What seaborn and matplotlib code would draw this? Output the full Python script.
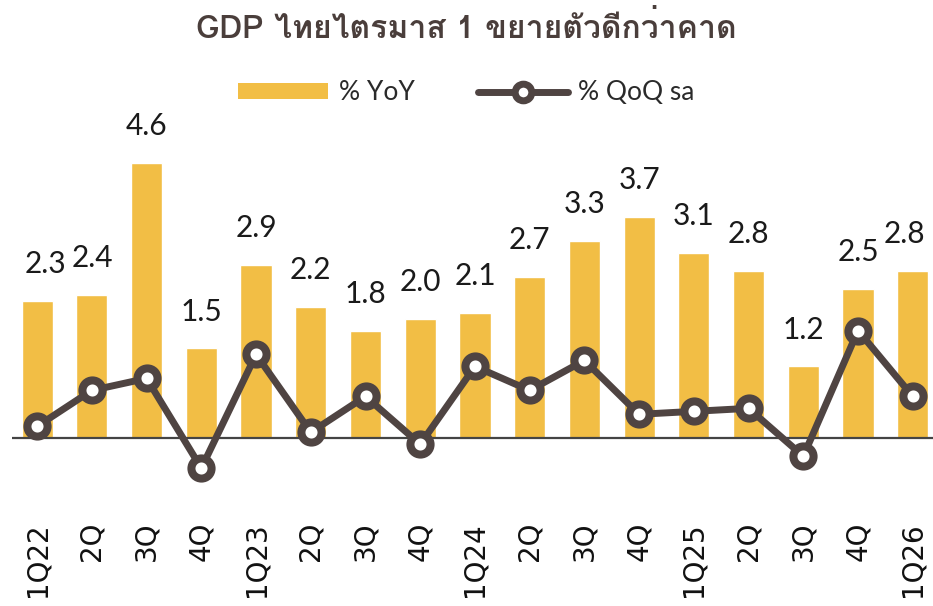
import numpy as np
import pandas as pd
import matplotlib
matplotlib.use("Agg")
import matplotlib.pyplot as plt
from matplotlib import font_manager
from matplotlib.ft2font import FT2Font
from matplotlib.lines import Line2D
from matplotlib.patches import Patch
import seaborn as sns

TITLE = "GDP ไทยไตรมาส 1 ขยายตัวดีกว่าคาด"
quarters = ["1Q22", "2Q", "3Q", "4Q", "1Q23", "2Q", "3Q", "4Q", "1Q24",
            "2Q", "3Q", "4Q", "1Q25", "2Q", "3Q", "4Q", "1Q26"]
yoy = [2.3, 2.4, 4.6, 1.5, 2.9, 2.2, 1.8, 2.0, 2.1, 2.7, 3.3, 3.7, 3.1, 2.8, 1.2, 2.5, 2.8]
qoq = [0.2, 0.8, 1.0, -0.5, 1.4, 0.1, 0.7, -0.1, 1.2, 0.8, 1.3, 0.4, 0.45, 0.5, -0.3, 1.8, 0.7]

BAR_COLOR = "#F2BE45"
LINE_COLOR = "#4F4442"
TITLE_COLOR = "#4A3E3B"


def find_thai_font():
    # first installed font that has Thai glyphs
    for f in font_manager.fontManager.ttflist:
        try:
            if ord("ก") in FT2Font(f.fname).get_charmap():
                return f.name
        except Exception:
            pass
    return "DejaVu Sans"


def main():
    sns.set_theme(style="white")
    thai_font = find_thai_font()
    plt.rcParams["font.family"] = ["DejaVu Sans"]

    df = pd.DataFrame({"pos": np.arange(len(quarters)), "quarter": quarters,
                       "yoy": yoy, "qoq": qoq})

    fig = plt.figure(figsize=(9.33, 6.06), dpi=100)
    ax = fig.add_axes([12 / 933, 0.173, 1 - 12 / 933, 0.583])

    sns.barplot(data=df, x="pos", y="yoy", color=BAR_COLOR, saturation=1,
                width=0.57, ax=ax)
    ax.axhline(0, color="#444444", lw=1.6, zorder=2)
    sns.lineplot(data=df, x="pos", y="qoq", color=LINE_COLOR, lw=5,
                 marker="o", markersize=14.5, markerfacecolor="white",
                 markeredgecolor=LINE_COLOR, markeredgewidth=5.8,
                 sort=False, ax=ax, zorder=3)

    # value labels above bars
    shifts = {0: 8, 16: -8}
    for i, v in enumerate(yoy):
        ax.annotate(f"{v:.1f}", (i, v), xytext=(shifts.get(i, 0) * 0.72, 20),
                    textcoords="offset points", ha="center", va="baseline",
                    fontsize=21.5, family="Lato", color="#1a1a1a")

    ax.set_xlim(-0.46, 16.37)
    ax.set_ylim(-1.05, 4.85)
    ax.set_xticks(df["pos"])
    ax.set_xticklabels(quarters, rotation=90, fontsize=20, color="#111111",
                       family="DejaVu Sans")
    ax.tick_params(axis="x", length=0, pad=15)
    ax.set_yticks([])
    ax.set_xlabel("")
    ax.set_ylabel("")
    sns.despine(ax=ax, left=True, bottom=True)

    fig.text(0.5, 1 - 28 / 606, TITLE, ha="center", va="center",
             fontsize=23, fontweight="bold", color=TITLE_COLOR,
             family=[thai_font, "DejaVu Sans"])

    handles = [Patch(facecolor=BAR_COLOR, edgecolor="none"),
               Line2D([], [], color=LINE_COLOR, lw=5, marker="o", markersize=12,
                      markerfacecolor="white", markeredgecolor=LINE_COLOR,
                      markeredgewidth=5)]
    fig.legend(handles, ["% YoY", "% QoQ sa"], loc="center",
               bbox_to_anchor=(0.5, 1 - 93 / 606), ncol=2, frameon=False,
               prop={"family": "Lato", "size": 19}, labelcolor="#2a2a2a",
               handlelength=3.4, handleheight=0.55, handletextpad=0.4,
               columnspacing=2.4)

    fig.savefig("out.png", dpi=100)


if __name__ == "__main__":
    main()
